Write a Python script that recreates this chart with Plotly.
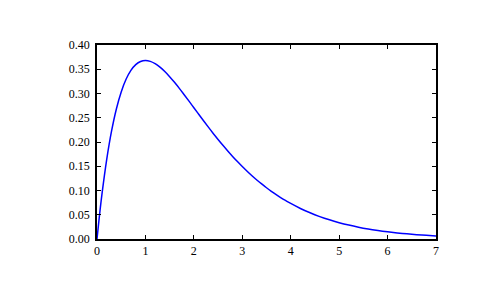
import plotly.graph_objects as go

x_vals = [0.0, 0.05, 0.1, 0.2, 0.3, 0.4, 0.5, 0.6, 0.7, 0.8, 0.9, 1.0, 1.1, 1.2, 1.3, 1.4,
          1.5, 1.6, 1.7, 1.8, 1.9, 2.0, 2.1, 2.2, 2.3, 2.4, 2.5, 2.6, 2.7, 2.8, 2.9,
          3.0, 3.1, 3.2, 3.3, 3.4, 3.5, 3.6, 3.7, 3.8, 3.9, 4.0, 4.2, 4.4, 4.6, 4.8,
          5.0, 5.2, 5.4, 5.6, 5.8, 6.0, 6.2, 6.4, 6.6, 6.8, 7.0]
y_vals = [0.0, 0.0476, 0.0905, 0.1637, 0.2222, 0.2681, 0.3033, 0.3293, 0.3476, 0.3595,
          0.3659, 0.3679, 0.3662, 0.3614, 0.3543, 0.3452, 0.3347, 0.3230, 0.3106, 0.2975,
          0.2842, 0.2707, 0.2572, 0.2438, 0.2306, 0.2177, 0.2052, 0.1931, 0.1815, 0.1703,
          0.1596, 0.1494, 0.1397, 0.1304, 0.1217, 0.1135, 0.1057, 0.0984, 0.0915, 0.0850,
          0.0790, 0.0733, 0.0630, 0.0540, 0.0462, 0.0395, 0.0337, 0.0287, 0.0244, 0.0207,
          0.0176, 0.0149, 0.0126, 0.0106, 0.0090, 0.0076, 0.0064]

x_ticks = [0, 1, 2, 3, 4, 5, 6, 7]
y_ticks = [0.0, 0.05, 0.10, 0.15, 0.20, 0.25, 0.30, 0.35, 0.40]

fig = go.Figure(go.Scatter(x=x_vals, y=y_vals, mode="lines",
                           line=dict(color="#0000ff", width=1.5, shape="spline"),
                           hoverinfo="skip"))

axis_common = dict(showline=True, linecolor="black", linewidth=1.5, mirror="ticks",
                   ticks="inside", ticklen=4, tickwidth=1, tickcolor="black",
                   showgrid=False, zeroline=False,
                   tickfont=dict(family="Liberation Serif", size=12, color="black"))

fig.update_layout(
    width=485, height=300,
    margin=dict(l=97, r=49, t=45, b=61),
    paper_bgcolor="white", plot_bgcolor="white",
    showlegend=False,
    font=dict(family="Liberation Serif", size=12, color="black"),
    xaxis=dict(range=[0, 7], tickvals=x_ticks, ticktext=[str(v) for v in x_ticks], **axis_common),
    yaxis=dict(range=[0, 0.4], tickvals=y_ticks, ticktext=[f"{v:.2f}" for v in y_ticks],
               ticklabelstandoff=3, **axis_common),
)

fig.write_html("out.html")
